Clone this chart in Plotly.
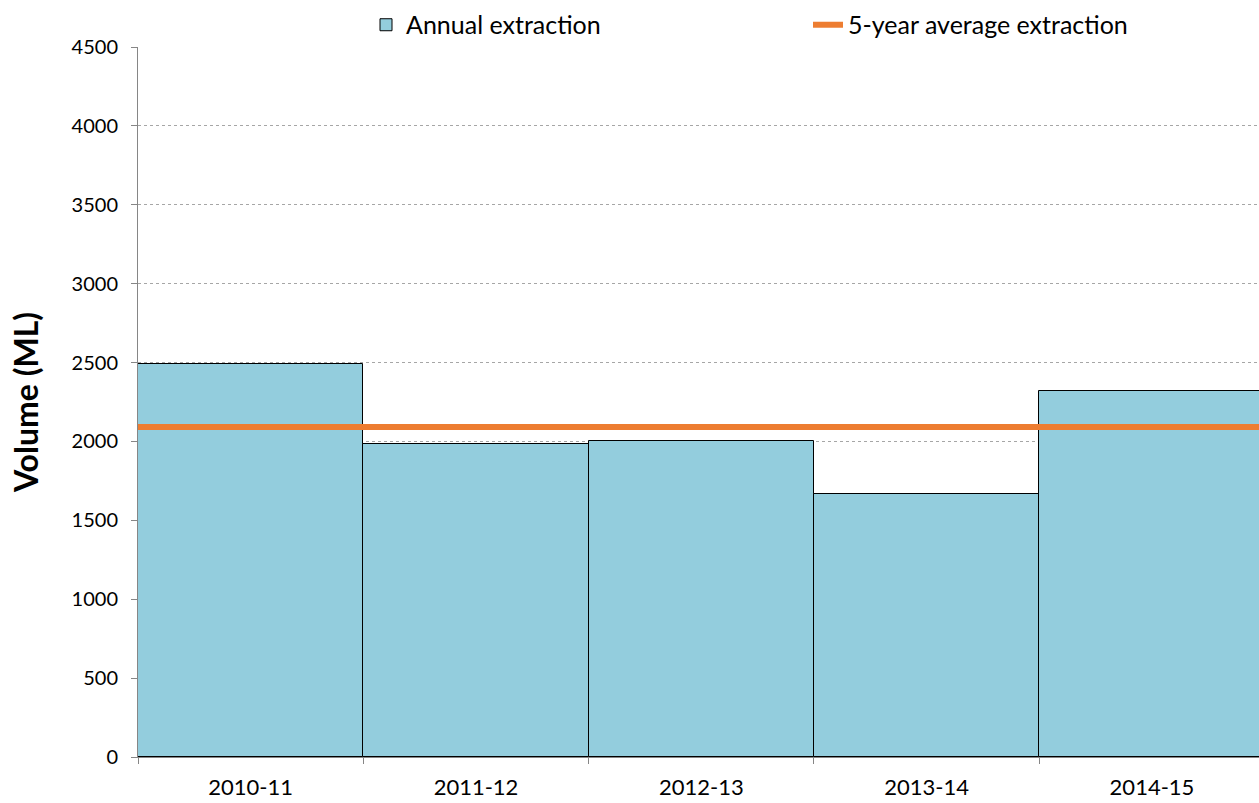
import plotly.graph_objects as go

categories = ["2010-11", "2011-12", "2012-13", "2013-14", "2014-15"]
annual_extraction = [2488, 1985, 2000, 1667, 2317]
average_extraction = sum(annual_extraction) / len(annual_extraction)
y_ticks = list(range(0, 4501, 500))

FONT = "Lato"
n = len(categories)
x_max = -0.5 + 4.975

fig = go.Figure()
fig.add_trace(go.Bar(
    x=categories, y=annual_extraction, name="Annual extraction",
    marker=dict(color="#93CDDD", line=dict(color="#000000", width=1)),
    width=1.0,
))
fig.add_trace(go.Scatter(
    x=[-0.5, n - 0.5], y=[average_extraction, average_extraction],
    mode="lines", name="5-year average extraction",
    line=dict(color="#ED7D31", width=6), xaxis="x2",
))

fig.update_layout(
    width=1259, height=803,
    margin=dict(l=138, r=0, t=47, b=46, autoexpand=False),
    paper_bgcolor="white", plot_bgcolor="white",
    font=dict(family=FONT, size=20, color="#000000"),
    bargap=0,
    showlegend=True,
    legend=dict(
        orientation="h", x=0.2034, y=1.031, xanchor="left", yanchor="middle",
        font=dict(family=FONT, size=25, color="#000000"),
        entrywidth=397, itemwidth=30, bgcolor="rgba(0,0,0,0)",
    ),
    xaxis=dict(
        type="category", range=[-0.5, x_max],
        showline=True, linecolor="#868686", linewidth=1,
        ticks="outside", tickson="boundaries", ticklen=6, tickcolor="#868686",
        tickfont=dict(family=FONT, size=22), showgrid=False, zeroline=False,
        ticklabelstandoff=11,
    ),
    xaxis2=dict(
        overlaying="x", range=[-0.5, x_max], visible=False, showgrid=False,
        zeroline=False,
    ),
    yaxis=dict(
        range=[0, 4500], tickvals=y_ticks, showline=True, linecolor="#868686",
        linewidth=1, ticks="outside", ticklen=6, tickcolor="#868686",
        showgrid=True, gridcolor="#a6a6a6", griddash="dot", gridwidth=1,
        zeroline=False, tickfont=dict(family=FONT, size=20),
        ticklabelstandoff=9,
        title=dict(text="<b>Volume (ML)</b>", font=dict(family=FONT, size=32), standoff=23),
    ),
)

fig.write_html(
    "out.html",
    config={"displayModeBar": False},
    post_script="document.body.style.margin='0';document.body.style.overflow='hidden';",
)
